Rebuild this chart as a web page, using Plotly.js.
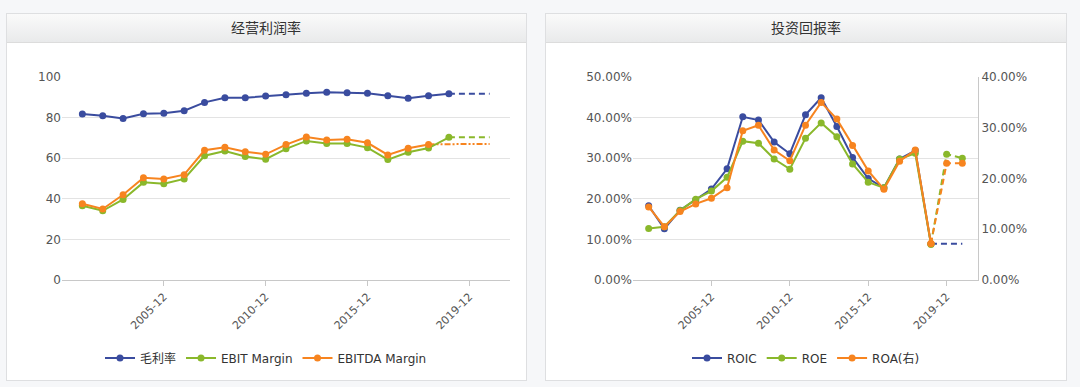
<!DOCTYPE html>
<html>
<head>
<meta charset="utf-8">
<script src="https://cdn.plot.ly/plotly-3.0.1.min.js"></script>
<style>
  html, body { margin: 0; padding: 0; background: #f6f7f9; width: 1080px; height: 387px; overflow: hidden; }
  .panel { position: absolute; top: 13px; height: 368px; background: #ffffff; border: 1px solid #dedfe1; box-sizing: border-box; }
  .hdr { position: absolute; left: 0; right: 0; top: 0; height: 28px; background: linear-gradient(#fafafa, #e9eaeb); border-bottom: 1px solid #dcdcdc; }
  #chart { position: absolute; left: 0; top: 0; width: 1080px; height: 387px; }
</style>
</head>
<body>
<div class="panel" style="left:6px;width:521px;"><div class="hdr"></div></div>
<div class="panel" style="left:545px;width:522px;"><div class="hdr"></div></div>
<div id="chart"></div>
<script>
// ---- data ----
const categories = ['2001-12','2002-12','2003-12','2004-12','2005-12','2006-12','2007-12','2008-12','2009-12','2010-12',
                    '2011-12','2012-12','2013-12','2014-12','2015-12','2016-12','2017-12','2018-12','2019-03','2019-12','2020-12'];
const tickLabels = ['2005-12','2010-12','2015-12','2019-12'];

// 经营利润率 (%)
const grossMargin      = [81.8,80.9,79.6,81.9,82.1,83.4,87.5,89.8,89.8,90.6,91.3,92.0,92.5,92.3,92.0,90.8,89.5,90.8,91.8,null,null];
const grossMarginFcst  = [null,null,null,null,null,null,null,null,null,null,null,null,null,null,null,null,null,null,91.8,91.8,91.8];
const ebitMargin       = [36.6,34.1,39.7,48.1,47.4,49.8,61.2,63.5,60.8,59.5,64.6,68.5,67.2,67.2,65.2,59.3,62.9,65.0,70.3,null,null];
const ebitMarginFcst   = [null,null,null,null,null,null,null,null,null,null,null,null,null,null,null,null,null,null,70.3,70.3,70.3];
const ebitdaMargin     = [37.6,35.0,42.0,50.4,49.8,51.9,63.9,65.4,63.2,61.9,66.7,70.4,69.0,69.3,67.6,61.6,64.9,66.8,null,null,null];
const ebitdaMarginFcst = [null,null,null,null,null,null,null,null,null,null,null,null,null,null,null,null,null,66.8,67.0,67.0,67.0];

// 投资回报率 (%)
const roic     = [18.3,12.6,17.2,19.7,22.4,27.4,40.2,39.4,34.0,31.1,40.7,44.9,37.8,30.2,25.0,22.7,29.8,31.9,8.9,null,null];
const roicFcst = [null,null,null,null,null,null,null,null,null,null,null,null,null,null,null,null,null,null,8.9,8.9,8.9];
const roe      = [12.7,13.1,17.1,19.9,21.9,25.3,34.2,33.7,29.8,27.3,34.9,38.7,35.3,28.6,24.1,22.7,29.8,31.2,8.8,null,null];
const roeFcst  = [null,null,null,null,null,null,null,null,null,null,null,null,null,null,null,null,null,null,8.8,31.0,30.0];
const roa      = [14.4,10.5,13.5,15.0,16.1,18.2,29.4,30.5,25.6,23.5,30.5,35.0,31.7,26.5,21.5,17.9,23.4,25.6,7.2,null,null];
const roaFcst  = [null,null,null,null,null,null,null,null,null,null,null,null,null,null,null,null,null,null,7.2,23.0,23.0];

// ---- styling ----
const BLUE = '#3a4c9f', GREEN = '#8ab82b', ORANGE = '#f7841f';
const FONT = 'DejaVu Sans, Noto Sans CJK SC, sans-serif';
const xIdx = categories.map((c, i) => i);
const tickIdx = tickLabels.map(l => categories.indexOf(l));

function line(y, color, name, xa, ya, legend, opts) {
  opts = opts || {};
  return Object.assign({
    type: 'scatter', x: xIdx, y: y, name: name, xaxis: xa, yaxis: ya, legend: legend,
    mode: 'lines+markers', line: {color: color, width: 2},
    marker: {color: color, size: 7, symbol: 'circle'},
    hoverinfo: 'x+y', cliponaxis: false
  }, opts);
}
function fcst(y, color, xa, ya, dash, withMarkers) {
  return {
    type: 'scatter', x: xIdx, y: y, xaxis: xa, yaxis: ya, showlegend: false,
    mode: withMarkers ? 'lines+markers' : 'lines',
    line: {color: color, width: 2, dash: dash},
    marker: {color: color, size: 7}, cliponaxis: false
  };
}

const traces = [
  fcst(grossMarginFcst, BLUE, 'x', 'y', '6px,4px', false),
  fcst(ebitMarginFcst, GREEN, 'x', 'y', '6px,4px', false),
  fcst(ebitdaMarginFcst, ORANGE, 'x', 'y', '6px,2px,2px,2px,2px,2px', false),
  line(grossMargin, BLUE, '毛利率', 'x', 'y', 'legend'),
  line(ebitMargin, GREEN, 'EBIT Margin', 'x', 'y', 'legend'),
  line(ebitdaMargin, ORANGE, 'EBITDA Margin', 'x', 'y', 'legend'),

  fcst(roicFcst, BLUE, 'x2', 'y2', '6px,4px', false),
  fcst(roeFcst, GREEN, 'x2', 'y2', '6px,4px', true),
  fcst(roaFcst, ORANGE, 'x2', 'y3', '6px,4px', true),
  line(roic, BLUE, 'ROIC', 'x2', 'y2', 'legend2'),
  line(roe, GREEN, 'ROE', 'x2', 'y2', 'legend2'),
  line(roa, ORANGE, 'ROA(右)', 'x2', 'y3', 'legend2')
];

const W = 1080, H = 387;
const px = v => v / W, py = v => 1 - v / H;

const xBase = {
  range: [-1, 21], tickmode: 'array', tickvals: tickIdx, ticktext: tickLabels,
  tickangle: -45, ticks: 'outside', ticklen: 5, tickcolor: '#c8c8c8',
  showline: true, linecolor: '#c8c8c8', linewidth: 1, showgrid: false, zeroline: false,
  tickfont: {family: FONT, size: 11, color: '#555'}, fixedrange: true
};
const yBase = {
  showgrid: true, gridcolor: '#e3e3e3', gridwidth: 1, zeroline: false,
  ticks: '', showline: false, tickfont: {family: FONT, size: 12, color: '#555'}, fixedrange: true
};

const layout = {
  width: W, height: H, autosize: false,
  margin: {l: 0, r: 0, t: 0, b: 0},
  paper_bgcolor: 'rgba(0,0,0,0)', plot_bgcolor: 'rgba(0,0,0,0)',
  font: {family: FONT, color: '#333'},
  showlegend: true,
  xaxis: Object.assign({}, xBase, {domain: [px(62), px(510)], anchor: 'y'}),
  yaxis: Object.assign({}, yBase, {domain: [py(280), py(77)], range: [0, 100], dtick: 20, anchor: 'x'}),
  xaxis2: Object.assign({}, xBase, {domain: [px(633), px(978)], anchor: 'y2'}),
  yaxis2: Object.assign({}, yBase, {domain: [py(280), py(77)], range: [0, 50], dtick: 10,
                                     tickformat: '.2f', ticksuffix: '%', anchor: 'x2'}),
  yaxis3: Object.assign({}, yBase, {range: [0, 40], dtick: 10, tickformat: '.2f', ticksuffix: '%',
                                     overlaying: 'y2', side: 'right', anchor: 'x2', showgrid: false,
                                     showline: true, linecolor: '#c8c8c8', linewidth: 1}),
  legend: {orientation: 'h', x: px(266), xanchor: 'center', y: py(358), yanchor: 'middle',
           font: {family: FONT, size: 12, color: '#333'}, itemwidth: 30, bgcolor: 'rgba(0,0,0,0)'},
  legend2: {orientation: 'h', x: px(806), xanchor: 'center', y: py(358), yanchor: 'middle',
            font: {family: FONT, size: 12, color: '#333'}, itemwidth: 30, bgcolor: 'rgba(0,0,0,0)'},
  annotations: [
    {text: '经营利润率', xref: 'paper', yref: 'paper', x: px(266), y: py(27), xanchor: 'center', yanchor: 'middle',
     showarrow: false, font: {family: 'Noto Sans CJK SC, sans-serif', size: 14, color: '#333'}},
    {text: '投资回报率', xref: 'paper', yref: 'paper', x: px(806), y: py(27), xanchor: 'center', yanchor: 'middle',
     showarrow: false, font: {family: 'Noto Sans CJK SC, sans-serif', size: 14, color: '#333'}}
  ]
};

Plotly.newPlot('chart', traces, layout, {displayModeBar: false, staticPlot: true});
</script>
</body>
</html>
